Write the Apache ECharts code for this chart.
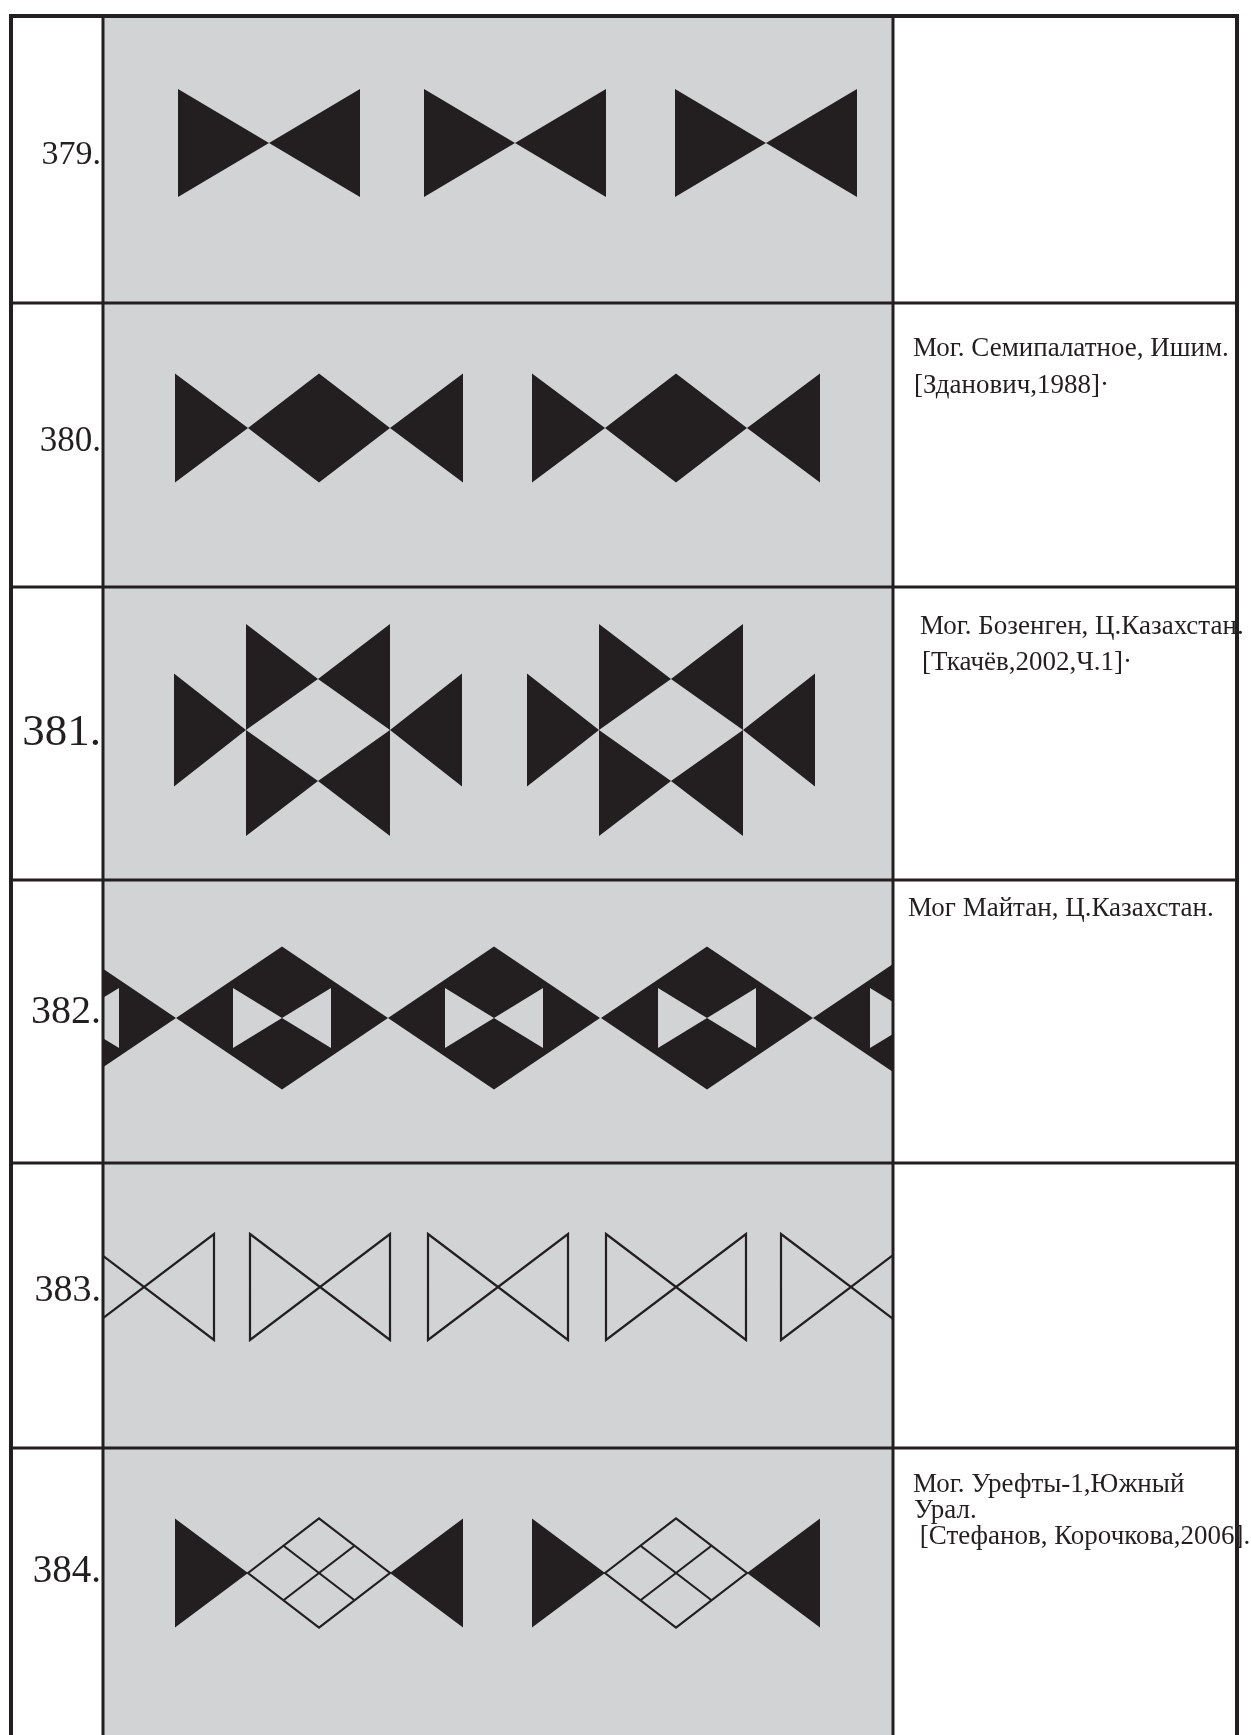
<!DOCTYPE html>
<html><head><meta charset="utf-8">
<script src="https://cdn.jsdelivr.net/npm/echarts@6/dist/echarts.min.js"></script>
<style>html,body{margin:0;padding:0;background:#fff}#main{width:1251px;height:1735px}</style>
</head><body><div id="main"></div>
<script>
// ---------------- data ----------------
const rowLabels = ['379.', '380.', '381.', '382.', '383.', '384.'];
const sourceNotes = [
  [],
  ['Мог. Семипалатное, Ишим.', '[Зданович,1988]·'],
  ['Мог. Бозенген, Ц.Казахстан.', '[Ткачёв,2002,Ч.1]·'],
  ['Мог Майтан, Ц.Казахстан.'],
  [],
  ['Мог. Урефты-1,Южный', 'Урал.', ' [Стефанов, Корочкова,2006].']
];
// motif centres along each ornament band (ornament-band units)
const bowties379 = [166, 412, 663];
const motifs380 = [216, 573];
const motifs381 = [215, 568];
const diamonds382 = [-33, 179, 391, 604, 816];
const outlines383 = [41, 217, 395, 573, 748];
const motifs384 = [216, 573];

// ---------------- layout / style ----------------
const W = 1251, H = 1735;
const colX = [11, 103, 893, 1237];
const rowY = [16, 303, 587, 880, 1163, 1448];
const bandMid = [143, 428, 730, 1018, 1287, 1573];
const INK = '#231f20', GREY = '#d1d3d4';
const SERIF = '"Liberation Serif", "Times New Roman", serif';
const labelLayout = [
  {size: 34, base: 167}, {size: 35, base: 454}, {size: 45, base: 748},
  {size: 40, base: 1026}, {size: 38, base: 1304}, {size: 39, base: 1585}
];
const noteLayout = [
  null, {x: [913, 914], base: [358, 395]}, {x: [920, 922], base: [636, 672]},
  {x: [908], base: [918]}, null, {x: [913, 914, 913], base: [1494, 1520, 1546]}
];
const NOTE_SIZE = 27;

// ---------------- motif geometry ----------------
const motifShapes = {
  bowtie: (cx, cy) => {
    const hw = 91, hh = 54;
    return [
      {pts: [[cx - hw, cy - hh], [cx, cy], [cx - hw, cy + hh]], fill: INK},
      {pts: [[cx + hw, cy - hh], [cx, cy], [cx + hw, cy + hh]], fill: INK}
    ];
  },
  triDiamond: (cx, cy) => {
    const hw = 144, a = 71, hh = 54.5;
    return [
      {pts: [[cx - hw, cy - hh], [cx - a, cy], [cx - hw, cy + hh]], fill: INK},
      {pts: [[cx - a, cy], [cx, cy - hh], [cx + a, cy], [cx, cy + hh]], fill: INK},
      {pts: [[cx + hw, cy - hh], [cx + a, cy], [cx + hw, cy + hh]], fill: INK}
    ];
  },
  star: (cx, cy) => {
    const a = 72, b = 51, T = 106, s = 56.5;
    return [
      {pts: [[cx - a, cy - T], [cx - a, cy], [cx, cy - b]], fill: INK},
      {pts: [[cx + a, cy - T], [cx + a, cy], [cx, cy - b]], fill: INK},
      {pts: [[cx - a, cy], [cx - a, cy + T], [cx, cy + b]], fill: INK},
      {pts: [[cx + a, cy], [cx + a, cy + T], [cx, cy + b]], fill: INK},
      {pts: [[cx - 2 * a, cy - s], [cx - a, cy], [cx - 2 * a, cy + s]], fill: INK},
      {pts: [[cx + 2 * a, cy - s], [cx + a, cy], [cx + 2 * a, cy + s]], fill: INK}
    ];
  },
  chain: (cx, cy) => {
    const hw = 106, hh = 71.5, iw = 49, ih = 30;
    return [
      {pts: [[cx - hw, cy], [cx, cy - hh], [cx + hw, cy], [cx, cy + hh]], fill: INK},
      {pts: [[cx - iw, cy - ih], [cx, cy], [cx - iw, cy + ih]], fill: GREY},
      {pts: [[cx + iw, cy - ih], [cx, cy], [cx + iw, cy + ih]], fill: GREY}
    ];
  },
  outline: (cx, cy) => {
    const hw = 70, hh = 53;
    return [
      {pts: [[cx - hw, cy - hh], [cx + hw, cy + hh], [cx + hw, cy - hh], [cx - hw, cy + hh]], stroke: true, closed: true}
    ];
  },
  lattice: (cx, cy) => {
    const hw = 144, a = 71, hh = 54.5;
    return [
      {pts: [[cx - hw, cy - hh], [cx - a, cy], [cx - hw, cy + hh]], fill: INK},
      {pts: [[cx + hw, cy - hh], [cx + a, cy], [cx + hw, cy + hh]], fill: INK},
      {pts: [[cx - a, cy], [cx, cy - hh], [cx + a, cy], [cx, cy + hh]], stroke: true, closed: true},
      {pts: [[cx - a / 2, cy - hh / 2], [cx + a / 2, cy + hh / 2]], stroke: true},
      {pts: [[cx + a / 2, cy - hh / 2], [cx - a / 2, cy + hh / 2]], stroke: true}
    ];
  }
};

function motifSeries(name, kind, centres, row) {
  return {
    type: 'custom', name: name, xAxisIndex: 1, yAxisIndex: 1, clip: true, z: 2,
    silent: true, animation: false,
    data: centres.map(x => [x, bandMid[row]]),
    encode: {x: 0, y: 1},
    renderItem: (params, api) => {
      const cx = api.value(0), cy = api.value(1);
      return {
        type: 'group',
        children: motifShapes[kind](cx, cy).map(s => {
          const points = s.pts.map(p => api.coord(p));
          if (s.fill) {
            return {type: 'polygon', shape: {points: points}, style: {fill: s.fill}};
          }
          return {type: s.closed ? 'polygon' : 'polyline', shape: {points: points},
                  style: {fill: 'none', stroke: INK, lineWidth: 2.2, lineJoin: 'miter'}};
        })
      };
    }
  };
}

// ---------------- text items ----------------
const textItems = [];
rowLabels.forEach((t, i) => textItems.push({x: 101, y: labelLayout[i].base, text: t, size: labelLayout[i].size, align: 'right'}));
sourceNotes.forEach((lines, i) => lines.forEach((t, j) => textItems.push({
  x: noteLayout[i].x[j], y: noteLayout[i].base[j], text: t, size: NOTE_SIZE, align: 'left'
})));

// ---------------- frame segments ----------------
const frameSegs = [];
colX.forEach((x, i) => frameSegs.push({p: [x, rowY[0] - 2, x, H + 10], w: (i === 0 || i === 3) ? 4 : 3}));
rowY.forEach((y, i) => frameSegs.push({p: [colX[0] - 2, y, colX[3] + 2, y], w: i === 0 ? 4 : 3}));

const chart = echarts.init(document.getElementById('main'), null, {renderer: 'canvas'});
chart.setOption({
  backgroundColor: '#ffffff',
  animation: false,
  grid: [
    {left: 0, top: 0, width: W, height: H, containLabel: false},
    {left: colX[1], top: 0, width: colX[2] - colX[1], height: H, containLabel: false}
  ],
  xAxis: [
    {type: 'value', gridIndex: 0, min: 0, max: W, show: false},
    {type: 'value', gridIndex: 1, min: 0, max: colX[2] - colX[1], show: false}
  ],
  yAxis: [
    {type: 'value', gridIndex: 0, min: 0, max: H, inverse: true, show: false},
    {type: 'value', gridIndex: 1, min: 0, max: H, inverse: true, show: false}
  ],
  series: [
    {
      type: 'custom', name: 'band', xAxisIndex: 0, yAxisIndex: 0, z: 0, silent: true,
      data: [[colX[1], rowY[0], colX[2], H + 10]],
      renderItem: (params, api) => {
        const p0 = api.coord([api.value(0), api.value(1)]);
        const p1 = api.coord([api.value(2), api.value(3)]);
        return {type: 'rect', shape: {x: p0[0], y: p0[1], width: p1[0] - p0[0], height: p1[1] - p0[1]}, style: {fill: GREY}};
      }
    },
    motifSeries('379', 'bowtie', bowties379, 0),
    motifSeries('380', 'triDiamond', motifs380, 1),
    motifSeries('381', 'star', motifs381, 2),
    motifSeries('382', 'chain', diamonds382, 3),
    motifSeries('383', 'outline', outlines383, 4),
    motifSeries('384', 'lattice', motifs384, 5),
    {
      type: 'custom', name: 'text', xAxisIndex: 0, yAxisIndex: 0, z: 3, silent: true,
      data: textItems.map(t => [t.x, t.y]),
      renderItem: (params, api) => {
        const it = textItems[params.dataIndex];
        const p = api.coord([api.value(0), api.value(1)]);
        return {
          type: 'text', x: p[0], y: p[1] - 0.3375 * it.size,
          style: {text: it.text, fill: INK, fontSize: it.size, fontFamily: SERIF,
                  align: it.align, verticalAlign: 'middle'}
        };
      }
    },
    {
      type: 'custom', name: 'frame', xAxisIndex: 0, yAxisIndex: 0, z: 4, silent: true,
      data: frameSegs.map(s => s.p),
      renderItem: (params, api) => {
        const a = api.coord([api.value(0), api.value(1)]);
        const b = api.coord([api.value(2), api.value(3)]);
        return {type: 'line', shape: {x1: a[0], y1: a[1], x2: b[0], y2: b[1]},
                style: {stroke: INK, lineWidth: frameSegs[params.dataIndex].w}};
      }
    }
  ]
});
</script>
</body></html>
